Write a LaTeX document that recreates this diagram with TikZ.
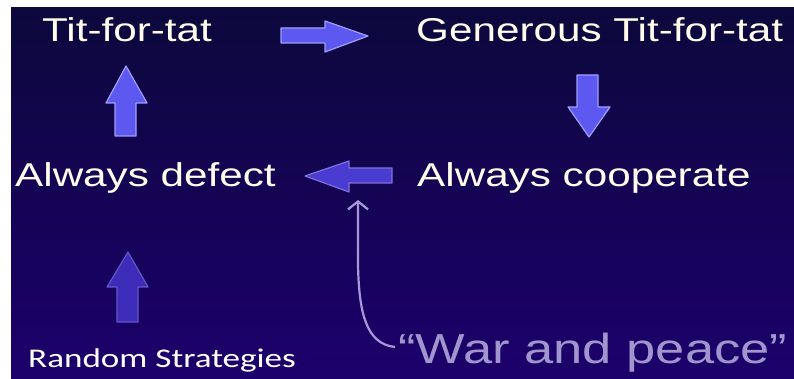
\documentclass[tikz,border=0pt]{standalone}
\usepackage{fontspec}
\setmainfont{Liberation Sans}[FakeStretch=1.28]
\newfontfamily\calibri{Carlito}[FakeStretch=1.3]
\newfontfamily\guerre{Liberation Sans}[FakeStretch=1.25]
\usetikzlibrary{arrows.meta}

\definecolor{fondhaut}{RGB}{12,8,60}
\definecolor{fondbas}{RGB}{28,0,108}
\definecolor{blanc}{RGB}{255,252,235}
\definecolor{flecheclair}{RGB}{92,88,240}
\definecolor{bordclair}{RGB}{160,158,250}
\definecolor{flechemoy}{RGB}{74,60,208}
\definecolor{bordmoy}{RGB}{128,112,220}
\definecolor{flechesombre}{RGB}{60,44,184}
\definecolor{bordsombre}{RGB}{100,84,200}
\definecolor{lilas}{RGB}{168,152,216}
\definecolor{guerretxt}{RGB}{160,150,205}

\begin{document}
\begin{tikzpicture}[x=1pt,y=-1pt,
  titre/.style={anchor=base west,inner sep=0pt,text=blanc,font=\fontsize{33}{36}\selectfont},
  fleche/.style={fill=flecheclair,draw=bordclair,line width=1.2pt,line join=round},
  courbe/.style={draw=lilas,line width=2.2pt,-{Straight Barb[length=8pt,width=20pt]}}
]
% Fond
\useasboundingbox (0,0) rectangle (794,379);
\fill[white] (0,0) rectangle (794,379);
\shade[top color=fondhaut,bottom color=fondbas] (11,8) rectangle (794,379);

% Strategies
\node[titre] (tft) at (42,42) {Tit-for-tat};
\node[titre] (gtft) at (416,42) {Generous Tit-for-tat};
\node[titre] (defect) at (15,187) {Always defect};
\node[titre] (coop) at (417,187) {Always cooperate};
\node[anchor=base west,inner sep=0pt,text=white,font=\calibri\fontsize{27}{29}\selectfont] (random) at (28,367) {Random Strategies};
\node[anchor=base west,inner sep=0pt,text=guerretxt,font=\guerre\fontsize{42}{46}\selectfont] (war) at (398,363) {“War and peace”};

% Grosses fleches
\draw[fleche] (115,136) -- (115,103) -- (106,103) -- (126,66) -- (147,103) -- (136,103) -- (136,136) -- cycle;
\draw[fleche] (281,28) -- (325,28) -- (325,21) -- (368,36) -- (325,52) -- (325,43) -- (281,43) -- cycle;
\draw[fleche] (577,75) -- (598,75) -- (598,107) -- (610,107) -- (589,137) -- (568,107) -- (577,107) -- cycle;
\draw[fleche,fill=flechemoy,draw=bordmoy] (392,168) -- (349,168) -- (349,161) -- (305,176) -- (349,192) -- (349,183) -- (392,183) -- cycle;
\draw[fleche,fill=flechesombre,draw=bordsombre] (117,322) -- (117,287) -- (107,287) -- (128,252) -- (148,287) -- (138,287) -- (138,322) -- cycle;

% Guerre et paix
\coordinate (depart) at (395,347);
\coordinate (cible) at (358,200);
\draw[courbe] (depart) .. controls (365,344) and (359,310) .. (358,265) -- (cible);
\end{tikzpicture}
\end{document}
